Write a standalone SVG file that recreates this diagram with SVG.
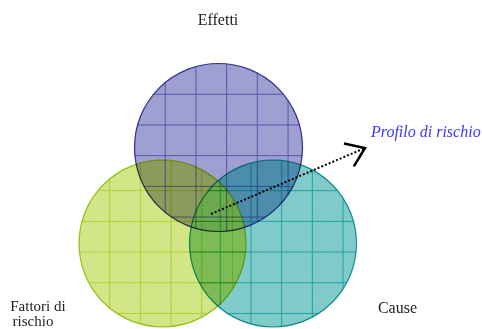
<svg xmlns="http://www.w3.org/2000/svg" width="482" height="329" viewBox="0 0 482 329">
  <style>
    .mul { mix-blend-mode: multiply; }
    .lbl { font-family: "Liberation Serif", "Times New Roman", serif; fill: #222; }
    .prof { font-family: "Liberation Serif", "Times New Roman", serif; font-style: italic; fill: #3a3af2; font-size: 16px; }
    .flow { fill: none; stroke: #000; stroke-width: 2; }
  </style>
  <defs>
    <circle id="cirP" cx="218.5" cy="147.5" r="84"/>
    <circle id="cirG" cx="162.5" cy="243.5" r="83.5"/>
    <circle id="cirT" cx="273" cy="243.5" r="83.5"/>
    <clipPath id="clipP"><use href="#cirP"/></clipPath>
    <clipPath id="clipG"><use href="#cirG"/></clipPath>
    <!-- fine cross-hatch texture laid over every fill -->
    <pattern id="tex" width="2" height="2" patternUnits="userSpaceOnUse">
      <rect width="2" height="2" fill="#fff"/>
      <rect width="1" height="1" fill="#f0f0f0"/>
      <rect x="1" y="1" width="1" height="1" fill="#f0f0f0"/>
    </pattern>
    <!-- coarse grid, origin at each circle's bounding box -->
    <pattern id="gridP" x="119.2" y="48.2" width="30.7" height="30.7" patternUnits="userSpaceOnUse">
      <rect width="30.7" height="30.7" fill="url(#tex)"/>
      <path d="M15.35,0 V30.7 M0,15.35 H30.7" stroke="#8585d0" stroke-width="1" fill="none"/>
    </pattern>
    <pattern id="gridG" x="63.6" y="144.6" width="30.7" height="30.7" patternUnits="userSpaceOnUse">
      <rect width="30.7" height="30.7" fill="url(#tex)"/>
      <path d="M15.35,0 V30.7 M0,15.35 H30.7" stroke="#cbe254" stroke-width="1" fill="none"/>
    </pattern>
    <pattern id="gridT" x="174.2" y="144.6" width="30.7" height="30.7" patternUnits="userSpaceOnUse">
      <rect width="30.7" height="30.7" fill="url(#tex)"/>
      <path d="M15.35,0 V30.7 M0,15.35 H30.7" stroke="#3cc6c8" stroke-width="1" fill="none"/>
    </pattern>
    <marker id="openHead" markerUnits="userSpaceOnUse" markerWidth="30" markerHeight="30" refX="0" refY="0" viewBox="-16 -12 18 24" orient="auto" overflow="visible">
      <path d="M-14,-10 L0,0 L-14,10" fill="none" stroke="#000" stroke-width="2"/>
    </marker>
  </defs>

  <rect width="482" height="329" fill="#fff"/>

  <!-- flat tints of the three sets and of their intersections -->
  <g id="tints">
    <use href="#cirP" fill="#a4a4d8"/>
    <use href="#cirG" fill="#d9ee8c"/>
    <use href="#cirT" fill="#84d2d0"/>
    <use href="#cirG" fill="#96a464" clip-path="url(#clipP)"/>
    <use href="#cirT" fill="#5096b6" clip-path="url(#clipP)"/>
    <use href="#cirT" fill="#86c85c" clip-path="url(#clipG)"/>
    <g clip-path="url(#clipP)">
      <use href="#cirT" fill="#76ba56" clip-path="url(#clipG)"/>
    </g>
  </g>

  <g id="effetti">
    <use class="mul" href="#cirP" fill="url(#gridP)" stroke="#3a3a9c" stroke-width="1.2"/>
    <text class="lbl" x="218" y="25" font-size="16" text-anchor="middle">Effetti</text>
  </g>

  <g id="fattori">
    <use class="mul" href="#cirG" fill="url(#gridG)" stroke="#a2c81e" stroke-width="1.2"/>
    <text class="lbl" x="38" y="311" font-size="15" text-anchor="middle">Fattori di</text>
    <text class="lbl" x="33" y="325.5" font-size="15" text-anchor="middle">rischio</text>
  </g>

  <g id="cause">
    <use class="mul" href="#cirT" fill="url(#gridT)" stroke="#1a9c9c" stroke-width="1.2"/>
    <text class="lbl" x="397.5" y="313" font-size="16" text-anchor="middle">Cause</text>
  </g>

  <g id="profilo">
    <text class="prof" x="371" y="137">Profilo di rischio</text>
  </g>

  <g id="connectors">
    <path class="flow" d="M211,214 L365,148" stroke-dasharray="2 2" marker-end="url(#openHead)"/>
  </g>
</svg>
